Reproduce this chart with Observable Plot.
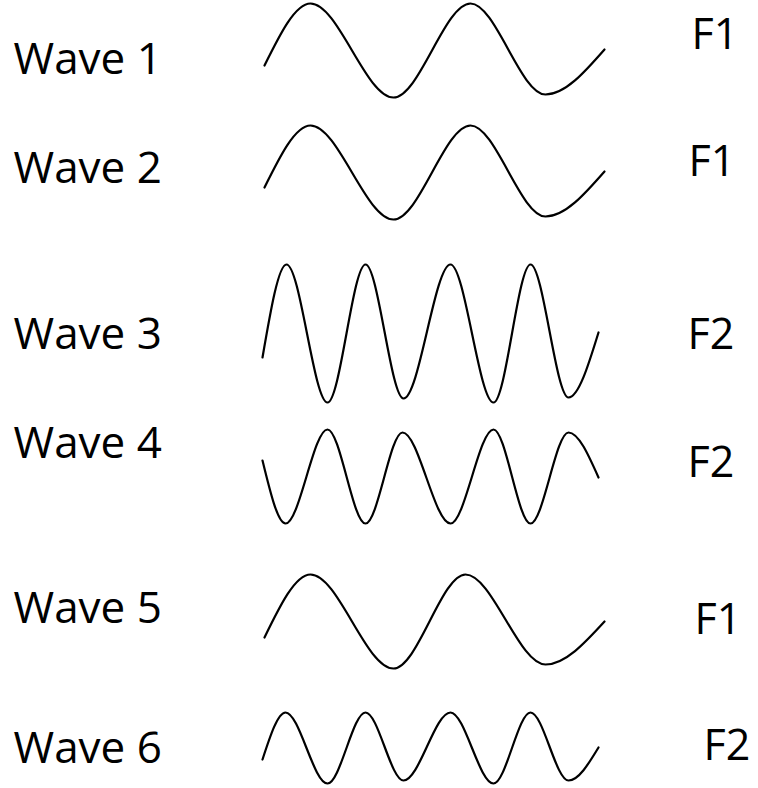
<!DOCTYPE html>
<html>
<head>
<meta charset="utf-8">
<script src="https://cdn.jsdelivr.net/npm/d3@7"></script>
<script src="https://cdn.jsdelivr.net/npm/@observablehq/plot@0.6"></script>
<style>
  html, body { margin: 0; padding: 0; background: #fff; }
  #chart svg { display: block; }
</style>
</head>
<body>
<div id="chart"></div>
<script>
// ---- data ----
const waveNames = ["Wave 1", "Wave 2", "Wave 3", "Wave 4", "Wave 5", "Wave 6"];
const freqLabels = ["F1", "F1", "F2", "F2", "F1", "F2"];

// turning points of each wave: time (t) and signal level relative to the wave's own baseline (up = positive)
const wave1T = [2, 48, 131, 208, 283, 342];
const wave1V = [-15, 47, -47, 47, -44, 1];
const wave2T = [2, 48, 131, 208, 283, 342];
const wave2V = [-15, 47, -47, 47, -44, 1];
const wave3T = [0, 24, 65, 103, 141, 188, 231, 268, 306, 336];
const wave3V = [-25, 68, -70, 68, -66, 68, -70, 68, -65, 0];
const wave4T = [0, 23, 65, 103, 140, 188, 231, 268, 306, 336];
const wave4V = [16, -47, 47, -47, 44, -47, 47, -47, 44, -1];
const wave5T = [2, 48, 131, 203, 283, 342];
const wave5V = [-16, 47, -47, 47, -43, 0];
const wave6T = [0, 23, 65, 103, 141, 188, 231, 268, 306, 336];
const wave6V = [-12, 35, -36, 35, -33, 35, -36, 35, -33, 0];

// ---- layout ----
const rowBase = [50, 172, 332, 476, 621, 747];        // row baselines (y units, downward)
const nameBaseline = [73, 182, 348, 457, 622, 762];
const freqBaseline = [48, 175, 348, 476, 633, 759];
const freqX = [429, 426, 425, 425, 432, 441];
const nameX = -249;

const waveT = [wave1T, wave2T, wave3T, wave4T, wave5T, wave6T];
const waveV = [wave1V, wave2V, wave3V, wave4V, wave5V, wave6V];

const points = [];
waveNames.forEach((name, i) => {
  waveT[i].forEach((t, j) => {
    points.push({wave: name, t, y: rowBase[i] - waveV[i][j]});
  });
});

const nameRows = waveNames.map((name, i) => ({text: name, x: nameX, y: nameBaseline[i]}));
const freqRows = freqLabels.map((f, i) => ({text: f, x: freqX[i], y: freqBaseline[i]}));

const chart = Plot.plot({
  width: 758,
  height: 788,
  margin: 0,
  style: {background: "#fff"},
  x: {domain: [-262, 496], range: [0, 758], axis: null},
  y: {domain: [0, 788], range: [0, 788], axis: null},
  marks: [
    Plot.line(points, {x: "t", y: "y", z: "wave", curve: "monotone-x", stroke: "#000", strokeWidth: 2.2}),
    Plot.text(nameRows, {x: "x", y: "y", text: "text", textAnchor: "start", lineAnchor: "bottom",
      fontSize: 44, fontFamily: "Open Sans", fill: "#000"}),
    Plot.text(freqRows, {x: "x", y: "y", text: "text", textAnchor: "start", lineAnchor: "bottom",
      fontSize: 43, fontFamily: "Open Sans", fill: "#000"})
  ]
});
document.getElementById("chart").appendChild(chart);
</script>
</body>
</html>
